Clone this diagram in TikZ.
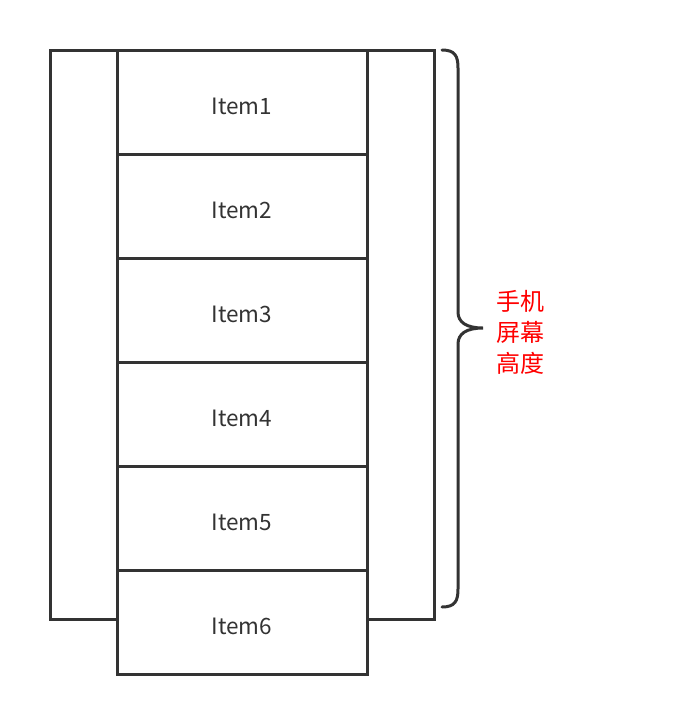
\documentclass[tikz,border=0pt]{standalone}
\usepackage{fontspec}
\usepackage{xcolor}
\usetikzlibrary{positioning}
\setmainfont{Noto Sans CJK SC}
\definecolor{linegray}{HTML}{333333}
\definecolor{notered}{HTML}{FF0000}

\begin{document}
\begin{tikzpicture}[
  x=1pt, y=-1pt,
  node distance=0pt,
  frame/.style={draw=linegray, line width=3pt, outer sep=0pt, inner sep=0pt},
  item/.style={frame, fill=white, minimum width=250pt, minimum height=104pt, text=linegray,
    text height=24pt, text depth=0pt, font=\fontsize{22.5}{26}\selectfont},
  note/.style={text=notered, align=center, inner sep=0pt, font=\fontsize{24}{31}\selectfont},
  brace/.style={draw=linegray, line width=3pt, line cap=round}
]
  \useasboundingbox (0,0) rectangle (693,724);

  % phone screen frame
  \node[frame, minimum width=384pt, minimum height=569pt] (screen) at (242,334.5) {};

  % list items
  \node[item] (item1) at (242,102) {Item1};
  \node[item, below=of item1] (item2) {Item2};
  \node[item, below=of item2] (item3) {Item3};
  \node[item, below=of item3] (item4) {Item4};
  \node[item, below=of item4] (item5) {Item5};
  \node[item, below=of item5] (item6) {Item6};

  % brace for the screen height
  \coordinate (tip) at (483,328);
  \draw[brace] (442,50) .. controls (455,50) and (458,56) .. (458,68) -- (458,312)
    .. controls (458,322) and (466,328) .. (tip)
    .. controls (466,328) and (458,334) .. (458,344) -- (458,589)
    .. controls (458,601) and (455,607) .. (442,607);

  \node[note, right=13pt of tip, yshift=-4pt] (label) {手机\\屏幕\\高度};
\end{tikzpicture}
\end{document}
